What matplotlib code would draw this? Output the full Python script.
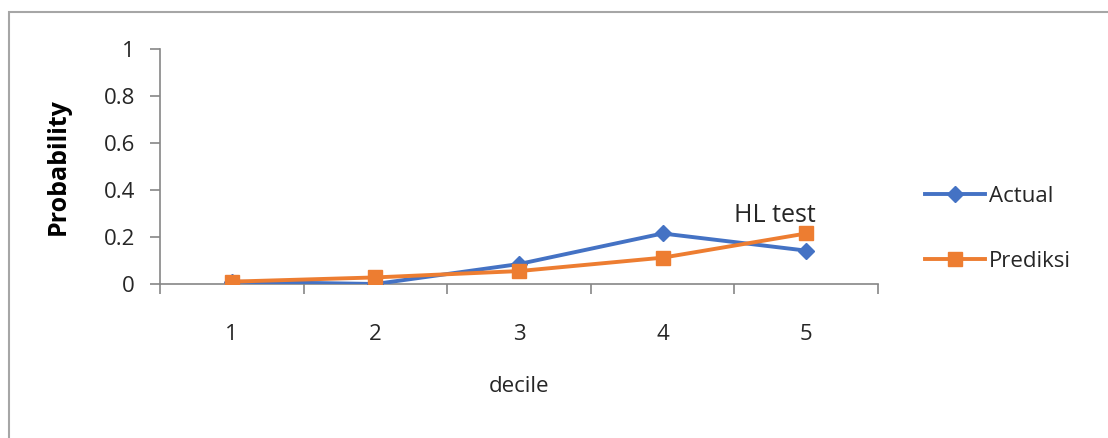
import matplotlib.pyplot as plt
from matplotlib.patches import Rectangle
from matplotlib.ticker import FixedLocator

deciles = [1, 2, 3, 4, 5]
actual = [0.01, 0.0, 0.085, 0.215, 0.142]
prediksi = [0.01, 0.028, 0.055, 0.112, 0.215]
y_ticks = [0, 0.2, 0.4, 0.6, 0.8, 1]
y_labels = ['0', '0.2', '0.4', '0.6', '0.8', '1']

plt.rcParams['font.family'] = ['Open Sans', 'DejaVu Sans']

fig = plt.figure(figsize=(11.08, 4.38), dpi=100)
fig.patches.append(Rectangle((9/1108, -0.1), 1.2, (438-12)/438 + 0.1,
                             transform=fig.transFigure, fill=False,
                             edgecolor='#a6a6a6', linewidth=1.5))
ax = fig.add_axes([160/1108, 1-284/438, 718/1108, 235/438])

grey = '#868686'
txt = '#262626'
ax.plot(deciles, actual, color='#4472C4', lw=2.8, marker='D', ms=8,
        label='Actual', zorder=3)
ax.plot(deciles, prediksi, color='#ED7D31', lw=2.8, marker='s', ms=10.5,
        label='Prediksi', zorder=4)

ax.set_xlim(0.5, 5.5)
ax.set_ylim(0, 1)
ax.set_yticks(y_ticks)
ax.set_yticklabels(y_labels)
ax.set_xticks(deciles)
ax.xaxis.set_minor_locator(FixedLocator([0.5, 1.5, 2.5, 3.5, 4.5, 5.5]))
ax.tick_params(axis='x', which='major', length=0, pad=29, labelsize=16, colors=txt)
ax.tick_params(axis='x', which='minor', length=7, color=grey, width=1.2)
ax.tick_params(axis='y', length=7, color=grey, width=1.2, pad=11,
               labelsize=16, labelcolor=txt)

for s in ['top', 'right']:
    ax.spines[s].set_visible(False)
for s in ['left', 'bottom']:
    ax.spines[s].set_color(grey)
    ax.spines[s].set_linewidth(1.2)

ax.set_ylabel('Probability', fontsize=18, fontweight='bold', color='black')
ax.yaxis.set_label_coords(-0.125, 0.5)
ax.set_xlabel('decile', fontsize=16, color=txt)
ax.xaxis.set_label_coords(0.5, -0.39)

ax.text(4.78, 0.29, 'HL test', fontsize=18, color=txt, ha='center', va='center')

ax.legend(loc='center left', bbox_to_anchor=(1.065, 0.234), frameon=False,
          fontsize=16, handlelength=2.7, handletextpad=0.2, labelspacing=2.0,
          borderaxespad=0, borderpad=0, labelcolor=txt)

fig.savefig('out.png', dpi=100)
